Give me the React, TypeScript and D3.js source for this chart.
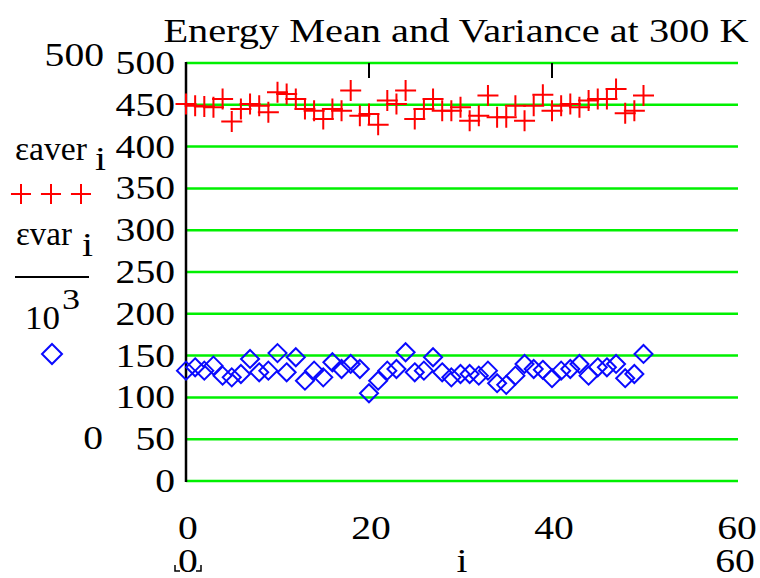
import React from "react";
import * as d3 from "d3";

const eaver = [451, 449, 448, 447, 457, 430, 445, 451, 449, 441, 465, 463, 457, 445, 443, 433, 445, 443, 467, 437, 439, 426, 455, 451, 467, 433, 445, 457, 443, 443, 447, 431, 437, 461, 435, 435, 449, 431, 449, 462, 443, 449, 451, 447, 455, 457, 457, 469, 440, 443, 461];
const evarK = [132, 136, 132, 138, 126, 124, 128, 146, 130, 132, 153, 130, 148, 120, 132, 124, 142, 134, 140, 134, 105, 120, 132, 134, 154, 130, 132, 148, 130, 124, 128, 128, 126, 132, 117, 115, 126, 140, 134, 133, 123, 132, 134, 140, 126, 136, 136, 140, 123, 128, 152];
const yTicks = [0, 50, 100, 150, 200, 250, 300, 350, 400, 450, 500];
const xTicks = [0, 20, 40, 60];
const topTicks = [20, 40];
const title = "Energy Mean and Variance at 300 K";

const FONT = "Liberation Serif";
const FS = 33;
const SX = 1.2;

function T({ x, y, anchor = "start", size = FS, fill = "#000", len, children }: any) {
  return (
    <text
      transform={`translate(${x},${y}) scale(${SX},1)`}
      textAnchor={anchor}
      fontFamily={FONT}
      fontSize={size}
      fill={fill}
      textLength={len ? len / SX : undefined}
      lengthAdjust={len ? "spacingAndGlyphs" : undefined}
    >
      {children}
    </text>
  );
}

export default function App() {
  const x = d3.scaleLinear().domain([0, 60]).range([186, 735]);
  const y = d3.scaleLinear().domain([0, 500]).range([481, 63]);
  const green = "#00f000";
  const red = "#ff0000";
  const blue = "#0a0aff";
  const cs = 10.5;
  const ds = 9;
  const cross = (cx: number, cy: number, s: number) =>
    `M${cx - s},${cy}H${cx + s}M${cx},${cy - s}V${cy + s}`;
  const diamond = (cx: number, cy: number, s: number) =>
    `M${cx},${cy - s}L${cx + s},${cy}L${cx},${cy + s}L${cx - s},${cy}Z`;

  return (
    <svg
      width={760}
      height={578}
      style={{ position: "absolute", left: 0, top: 0, background: "#fff" }}
    >
      <rect width={760} height={578} fill="#fff" />
      {yTicks.map((t) => (
        <line key={t} x1={186} x2={738} y1={y(t)} y2={y(t)} stroke={green} strokeWidth={2.5} />
      ))}
      <line x1={186} x2={186} y1={y(500) - 1} y2={y(0) + 1} stroke="#000" strokeWidth={2.5} />
      {topTicks.map((t) => (
        <line key={t} x1={x(t)} x2={x(t)} y1={y(500)} y2={y(500) + 15} stroke="#000" strokeWidth={2} />
      ))}
      <g stroke={red} strokeWidth={2} fill="none">
        {eaver.map((v, i) => (
          <path key={i} d={cross(x(i), y(v), cs)} />
        ))}
      </g>
      <g stroke={blue} strokeWidth={2} fill="none">
        {evarK.map((v, i) => (
          <path key={i} d={diamond(x(i), y(v), ds)} />
        ))}
      </g>
      <T x={456} y={42} anchor="middle" size={33.6}>{title}</T>
      {yTicks.map((t) => (
        <T key={t} x={175} y={y(t) + 11} anchor="end">{t}</T>
      ))}
      <T x={104} y={66} anchor="end">500</T>
      <T x={103} y={449} anchor="end">0</T>
      <T x={15} y={160} len={72}>εaver</T>
      <T x={95} y={170}>i</T>
      <g stroke={red} strokeWidth={2} fill="none">
        {[21, 51, 81].map((cx) => (
          <path key={cx} d={cross(cx, 194, 10)} />
        ))}
      </g>
      <T x={16} y={245} len={56}>εvar</T>
      <T x={82} y={256}>i</T>
      <line x1={15} x2={89} y1={277} y2={277} stroke="#000" strokeWidth={1.8} />
      <T x={25} y={329} len={35}>10</T>
      <T x={62} y={309} size={30}>3</T>
      <path d={diamond(52, 354, 10)} stroke={blue} strokeWidth={2} fill="none" />
      {xTicks.map((t) => (
        <T key={t} x={x(t) + 2} y={539} anchor="middle">{t}</T>
      ))}
      <T x={188} y={572} anchor="middle">0</T>
      <path d="M175,565V571H180M201,565V571H196" stroke="#000" strokeWidth={1.5} fill="none" />
      <T x={462} y={572} anchor="middle">i</T>
      <T x={735} y={572} anchor="middle">60</T>
    </svg>
  );
}
